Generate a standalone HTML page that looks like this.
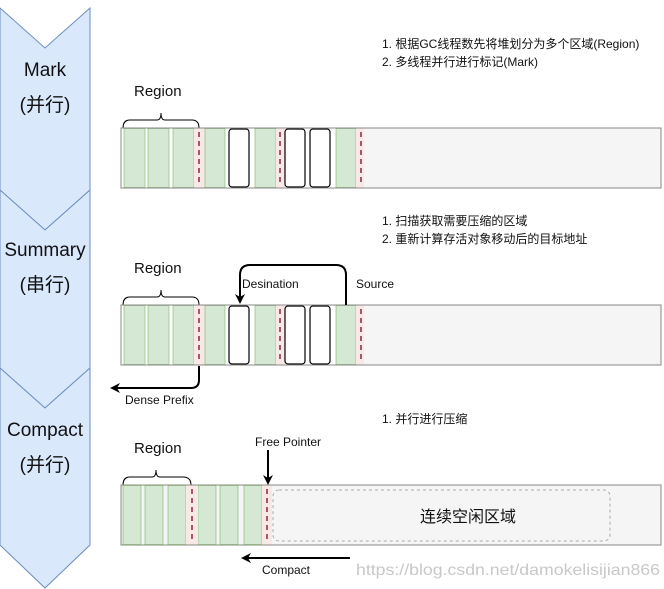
<!DOCTYPE html>
<html><head><meta charset="utf-8"><style>body{margin:0;background:#fff}svg{display:block}text{font-family:"Liberation Sans","Noto Sans CJK SC",sans-serif;fill:#111}</style></head><body>
<svg width="664" height="589" viewBox="0 0 664 589" xmlns="http://www.w3.org/2000/svg">
<defs>
<marker id="ah" markerWidth="10" markerHeight="10" refX="8" refY="5" orient="auto" markerUnits="userSpaceOnUse"><path d="M0,0 L10,5 L0,10 L3,5 Z" fill="#000"/></marker>
<g id="cellsA">
<rect x="0" y="0" width="540" height="60" fill="#f5f5f5" stroke="#888" stroke-width="1"/>
<rect x="0.5" y="0.5" width="300" height="59" fill="#fff"/>
<rect x="3" y="0.5" width="21" height="59" fill="#d5e8d4" stroke="#82b366" stroke-width="0.6"/>
<rect x="27" y="0.5" width="21" height="59" fill="#d5e8d4" stroke="#82b366" stroke-width="0.6"/>
<rect x="52" y="0.5" width="21" height="59" fill="#d5e8d4" stroke="#82b366" stroke-width="0.6"/>
<rect x="73" y="0.5" width="11" height="59" fill="#f8e8e6"/>
<line x1="78" y1="4" x2="78" y2="58" stroke="#a8566e" stroke-width="2" stroke-dasharray="5,4"/>
<rect x="84" y="0.5" width="20" height="59" fill="#d5e8d4" stroke="#82b366" stroke-width="0.6"/>
<rect x="108" y="1" width="20" height="58" rx="3" fill="#fff" stroke="#000" stroke-width="1.2"/>
<rect x="134" y="0.5" width="21" height="59" fill="#d5e8d4" stroke="#82b366" stroke-width="0.6"/>
<rect x="155" y="0.5" width="9" height="59" fill="#f8e8e6"/>
<line x1="159" y1="4" x2="159" y2="58" stroke="#a8566e" stroke-width="2" stroke-dasharray="5,4"/>
<rect x="164" y="1" width="20" height="58" rx="3" fill="#fff" stroke="#000" stroke-width="1.2"/>
<rect x="189" y="1" width="20" height="58" rx="3" fill="#fff" stroke="#000" stroke-width="1.2"/>
<rect x="215" y="0.5" width="20" height="59" fill="#d5e8d4" stroke="#82b366" stroke-width="0.6"/>
<rect x="235" y="0.5" width="8" height="59" fill="#f8e8e6"/>
<line x1="240" y1="4" x2="240" y2="58" stroke="#a8566e" stroke-width="2" stroke-dasharray="5,4"/>
<rect x="243" y="0.5" width="296" height="59" fill="#f5f5f5"/>
<rect x="0" y="0" width="540" height="60" fill="none" stroke="#888" stroke-width="1"/>
</g>
</defs>
<g fill="#dae8fc" stroke="#6c8ebf" stroke-width="1">
<path d="M0,8 L45,48 L90,8 L90,190 L45,230 L0,190 Z"/>
<path d="M0,190 L45,230 L90,190 L90,368 L45,408 L0,368 Z"/>
<path d="M0,368 L45,408 L90,368 L90,545 L45,588 L0,545 Z"/>
</g>
<g font-size="19" text-anchor="middle">
<text x="45" y="76">Mark</text><text x="45" y="111">(并行)</text>
<text x="45" y="256">Summary</text><text x="45" y="291">(串行)</text>
<text x="45" y="436">Compact</text><text x="45" y="471">(并行)</text>
</g>
<g font-size="12">
<text x="382" y="48">1. 根据GC线程数先将堆划分为多个区域(Region)</text>
<text x="382" y="66">2. 多线程并行进行标记(Mark)</text>
<text x="382" y="225">1. 扫描获取需要压缩的区域</text>
<text x="382" y="243">2. 重新计算存活对象移动后的目标地址</text>
<text x="382" y="423">1. 并行进行压缩</text>
</g>
<g font-size="15"><text x="134" y="96">Region</text><text x="134" y="273">Region</text><text x="134" y="453">Region</text></g>
<g fill="none" stroke="#000" stroke-width="1">
<path d="M123,128 Q123,120 130,120 L157,120 Q161,120 161,113 Q161,120 165,120 L192,120 Q199,120 199,128"/>
<path d="M123,305 Q123,297 130,297 L157,297 Q161,297 161,290 Q161,297 165,297 L192,297 Q199,297 199,305"/>
<path d="M123,485 Q123,477 130,477 L152,477 Q156,477 156,470 Q156,477 160,477 L183,477 Q191,477 191,485"/>
</g>
<use href="#cellsA" x="121" y="128"/>
<use href="#cellsA" x="121" y="305"/>
<path d="M346,305 L346,275 Q346,265 336,265 L250,265 Q240,265 240,275 L240,302" fill="none" stroke="#000" stroke-width="2" marker-end="url(#ah)"/>
<text x="242" y="288" font-size="12">Desination</text>
<text x="356" y="288" font-size="12">Source</text>
<path d="M199,366 L199,380 Q199,388 191,388 L112,388" fill="none" stroke="#000" stroke-width="2" marker-end="url(#ah)"/>
<text x="125" y="404" font-size="12">Dense Prefix</text>
<rect x="121" y="485" width="540" height="60" fill="#f5f5f5" stroke="#888"/>
<g fill="#d5e8d4" stroke="#82b366" stroke-width="0.6">
<rect x="123" y="485.5" width="18" height="59"/><rect x="145" y="485.5" width="18" height="59"/><rect x="168" y="485.5" width="18" height="59"/>
<rect x="198" y="485.5" width="18" height="59"/><rect x="220" y="485.5" width="18" height="59"/><rect x="244" y="485.5" width="18" height="59"/>
</g>
<rect x="186" y="485.5" width="12" height="59" fill="#f8e8e6"/>
<rect x="262" y="485.5" width="10" height="59" fill="#f8e8e6"/>
<line x1="192" y1="489" x2="192" y2="543" stroke="#a8566e" stroke-width="2" stroke-dasharray="5,4"/>
<line x1="267" y1="489" x2="267" y2="543" stroke="#a8566e" stroke-width="2" stroke-dasharray="5,4"/>
<rect x="273" y="490" width="337" height="51" rx="6" fill="#f5f5f5" stroke="#aaa" stroke-dasharray="3,3"/>
<text x="468" y="522" font-size="16" text-anchor="middle" fill="#333">连续空闲区域</text>
<text x="255" y="446" font-size="12">Free Pointer</text>
<line x1="268" y1="450" x2="268" y2="483" stroke="#000" stroke-width="2" marker-end="url(#ah)"/>
<line x1="350" y1="558" x2="243" y2="558" stroke="#000" stroke-width="2" marker-end="url(#ah)"/>
<text x="262" y="574" font-size="12">Compact</text>
<text x="356" y="575" font-size="16" textLength="304" lengthAdjust="spacingAndGlyphs" style="fill:#c8c8c8">https://blog.csdn.net/damokelisijian866</text>
</svg>
</body></html>
